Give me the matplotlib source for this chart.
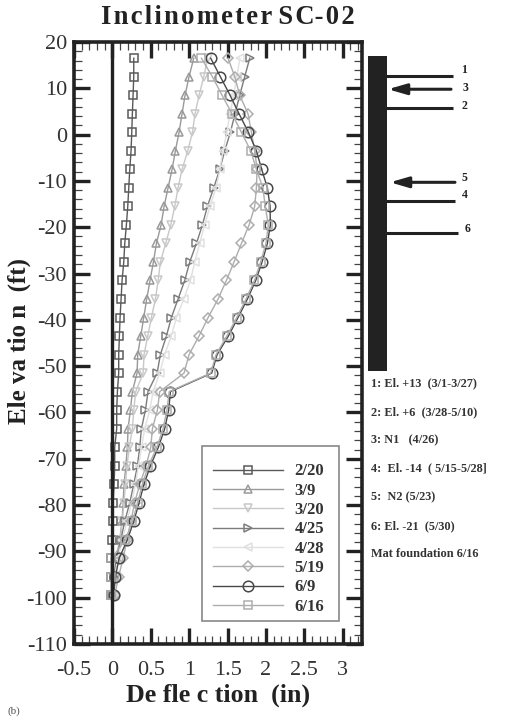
import matplotlib
matplotlib.use('Agg')
import matplotlib.pyplot as plt
from matplotlib.patches import Rectangle
from matplotlib.ticker import MultipleLocator

plt.rcParams['font.family'] = ['Liberation Serif', 'DejaVu Serif']
plt.rcParams['axes.unicode_minus'] = False

W, H = 523, 719
elev = [16.5, 12.5, 8.5, 4.5, 0.5, -3.5, -7.5, -11.5, -15.5, -19.5, -23.5, -27.5, -31.5, -35.5, -39.5,
        -43.5, -47.5, -51.5, -55.5, -59.5, -63.5, -67.5, -71.5, -75.5, -79.5, -83.5, -87.5, -91.5, -95.5, -99.5]

d_0220 = [.278, .278, .269, .26, .252, .243, .226, .213, .2, .182, .161, .148, .126, .113, .1,
          .091, .082, .082, .065, .056, .056, .03, .03, .022, .009, .009, 0, -.013, -.013, -.013]
d_0309 = [1.059, .998, .946, .907, .868, .82, .777, .725, .673, .634, .573, .534, .49, .447, .408,
          .369, .33, .321, .26, .234, .204, .195, .175, .152, .139, .126, .095, .052, .03, .01]
d_0320 = [1.24, 1.19, 1.128, 1.076, 1.042, .981, .907, .855, .812, .76, .694, .625, .595, .56, .508,
          .46, .412, .4, .304, .278, .26, .22, .19, .17, .15, .13, .1, .06, .03, .01]
d_0425 = [1.788, 1.723, 1.658, 1.597, 1.536, 1.463, 1.398, 1.319, 1.237, 1.172, 1.094, 1.007, .942, .855, .768,
          .703, .625, .582, .464, .43, .378, .356, .326, .278, .226, .161, .11, .05, .02, .01]
d_0428 = [1.66, 1.62, 1.58, 1.53, 1.49, 1.44, 1.40, 1.35, 1.27, 1.2, 1.137, 1.072, 1.016, .93, .833,
          .768, .68, .616, .53, .486, .42, .38, .34, .3, .25, .19, .13, .07, .03, .01]
d_0519 = [1.506, 1.593, 1.658, 1.766, 1.81, 1.853, 1.884, 1.875, 1.853, 1.78, 1.68, 1.584, 1.484, 1.376, 1.246,
          1.128, .998, .933, .616, .586, .521, .5, .44, .356, .29, .24, .19, .14, .08, .03]
d_0609 = [1.28, 1.406, 1.532, 1.649, 1.771, 1.875, 1.944, 2.018, 2.053, 2.057, 2.018, 1.949, 1.866, 1.758, 1.636,
          1.51, 1.363, 1.293, .755, .733, .681, .599, .495, .412, .347, .278, .195, .087, .039, .017]
d_0616 = [1.159, 1.302, 1.428, 1.558, 1.68, 1.801, 1.875, 1.96, 1.99, 2.03, 2.0, 1.93, 1.85, 1.74, 1.62,
          1.49, 1.35, 1.28, .74, .71, .66, .58, .47, .39, .33, .26, .17, -.013, -.013, -.013]

labels = ['2/20', '3/9', '3/20', '4/25', '4/28', '5/19', '6/9', '6/16']
series = [d_0220, d_0309, d_0320, d_0425, d_0428, d_0519, d_0609, d_0616]
colors = ['#5a5a5a', '#999999', '#c8c8c8', '#7c7c7c', '#e0e0e0', '#adadad', '#484848', '#adadad']
markers = ['s', '^', 'v', '>', '<', 'D', 'o', 's']
msizes = [5.2, 6, 6, 6, 6, 4.8, 7.6, 5.2]

bar_top, bar_bottom = 17, -51
support_lines = [('1', 12.7), ('2', 5.7), ('4', -14.3), ('6', -21.2)]
struts = [('3', 9.8), ('5', -10.3)]
notes = ['1: El. +13  (3/1-3/27)', '2: El. +6  (3/28-5/10)', '3: N1   (4/26)',
         '4:  El. -14  ( 5/15-5/28]', '5:  N2 (5/23)', '6: El. -21  (5/30)', 'Mat foundation 6/16']

fig = plt.figure(figsize=(W / 100, H / 100), dpi=100, facecolor='white')
L, R, T, B = 74, 362, 42, 644
ax = fig.add_axes([L / W, 1 - B / H, (R - L) / W, (B - T) / H])
ax.set_xlim(-0.5, 3.25)
ax.set_ylim(-110, 20)

for d, lab, c, m, ms in zip(series, labels, colors, markers, msizes):
    ax.plot(d, elev, color=c, lw=1.0, marker=m, ms=ms, mfc='none', mec=c, mew=1.1, label=lab)
ax.axvline(0, color='#222222', lw=2.4, zorder=5)

ax.xaxis.set_minor_locator(MultipleLocator(0.1))
ax.yaxis.set_major_locator(MultipleLocator(10))
ax.yaxis.set_minor_locator(MultipleLocator(2))
ax.set_xticks([-0.5, 0, 0.5, 1, 1.5, 2, 2.5, 3])
ax.set_xticklabels(['-0.5', '0', '0.5', '1', '1.5', '2', '2.5', '3'])
ax.tick_params(which='major', direction='in', top=True, right=True, length=11.5, width=2.4,
               color='#222222', labelsize=16, labelcolor='#333333')
ax.tick_params(which='minor', direction='in', top=True, right=True, length=5.5, width=0.9, color='#444444')
ax.tick_params(axis='x', which='major', pad=12)
ax.tick_params(axis='y', which='major', pad=5)
for s in ax.spines.values():
    s.set_linewidth(2.6)
    s.set_color('#222222')

hair = '\u200a'
title = hair.join('Inclinometer') + ' ' + hair.join(['S', 'C-', '0', '2'])
fig.text(228 / W, 1 - 17 / H, title, ha='center', va='center', fontsize=19.2, fontweight='bold', color='#222222')
fig.text(218 / W, 1 - 695 / H, 'De fle c tion  (in)', ha='center', va='center', fontsize=18.6,
         fontweight='bold', color='#222222')
fig.text(19 / W, 1 - 341 / H, 'Ele va tio n  (ft)', ha='center', va='center', rotation=90, fontsize=18,
         fontweight='bold', color='#222222')

ax.add_patch(Rectangle((1.163, -105), 1.784, 37.8, facecolor='white', edgecolor='#888888', lw=1.2, zorder=6))
leg = ax.legend(loc='upper left', bbox_to_anchor=(1.306, -71), bbox_transform=ax.transData,
                frameon=False, borderpad=0, labelspacing=0.2, handlelength=4.2, handletextpad=0.7,
                borderaxespad=0, prop={'family': 'Liberation Serif', 'weight': 'bold', 'size': 12})
leg.set_zorder(7)
for t in leg.get_texts():
    t.set_color('#333333')

# Right panel: shares the elevation scale, horizontal units are figure pixels
ax2 = fig.add_axes([364 / W, 1 - B / H, (W - 364) / W, (B - T) / H])
ax2.set_xlim(364, W)
ax2.set_ylim(-110, 20)
ax2.axis('off')
ax2.fill_betweenx([bar_bottom, bar_top], 367.5, 386.5, color='#222222', lw=0)
ends = {'1': 453, '2': 453, '4': 455, '6': 458, '3': 451, '5': 455}
num_pos = {'1': (461, 14.0), '2': (461, 6.2), '3': (463, 10), '4': (462, -13), '5': (462, -9.3), '6': (465, -20.3)}
for name, y in support_lines:
    ax2.plot([386, ends[name]], [y, y], color='#222222', lw=2.2, solid_capstyle='butt')
for name, y in struts:
    tip = 388 if name == '3' else 390
    ax2.annotate('', xy=(tip, y), xytext=(ends[name], y),
                 arrowprops=dict(arrowstyle='-|>,head_length=1.1,head_width=0.32', color='#222222', lw=2.2,
                                 shrinkA=0, shrinkB=0))
for name, (x, y) in num_pos.items():
    ax2.text(x, y, name, fontsize=8.5, fontweight='bold', color='#222222', ha='left', va='center')

note_y_px = [383, 412, 440, 468, 497, 526, 554]
for txt, yp in zip(notes, note_y_px):
    fig.text(371 / W, 1 - yp / H, txt, fontsize=8.8, fontweight='bold', color='#333333', ha='left', va='center')

fig.text(8 / W, 1 - 711 / H, '(b)', fontsize=8, color='#555555', ha='left', va='center')

fig.savefig('out.png', dpi=100, facecolor='white')
